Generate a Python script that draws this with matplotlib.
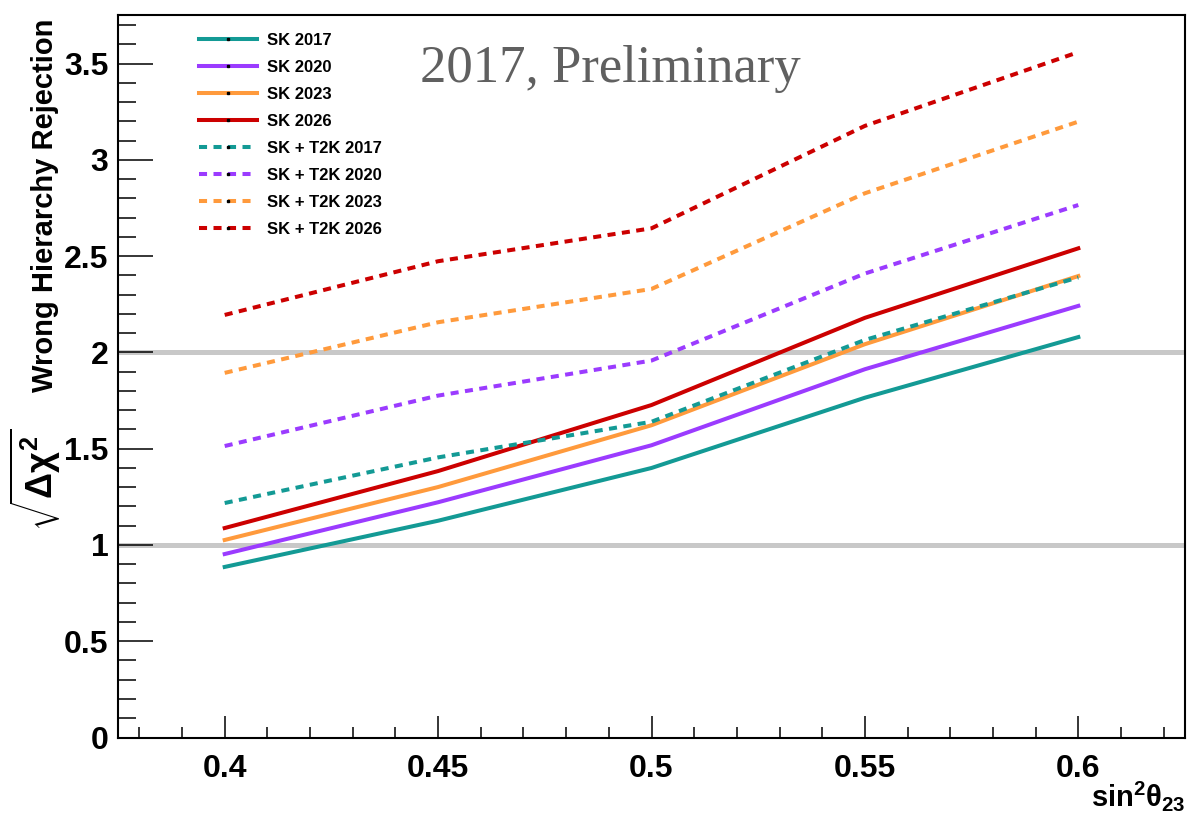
import matplotlib
matplotlib.use("Agg")
import matplotlib.pyplot as plt
from matplotlib.lines import Line2D
from matplotlib.ticker import MultipleLocator, FuncFormatter

# sin^2(theta_23) grid
sin2_theta23 = [0.40, 0.45, 0.50, 0.55, 0.60]

# sqrt(delta chi^2) for wrong-hierarchy rejection
sk_2017 = [0.886, 1.126, 1.400, 1.765, 2.080]
sk_2020 = [0.953, 1.222, 1.518, 1.913, 2.242]
sk_2023 = [1.026, 1.301, 1.622, 2.043, 2.397]
sk_2026 = [1.088, 1.384, 1.727, 2.180, 2.541]
sk_t2k_2017 = [1.218, 1.455, 1.640, 2.065, 2.390]
sk_t2k_2020 = [1.514, 1.776, 1.958, 2.410, 2.766]
sk_t2k_2023 = [1.894, 2.157, 2.330, 2.827, 3.199]
sk_t2k_2026 = [2.195, 2.474, 2.645, 3.177, 3.560]

labels = ["SK 2017", "SK 2020", "SK 2023", "SK 2026",
          "SK + T2K 2017", "SK + T2K 2020", "SK + T2K 2023", "SK + T2K 2026"]
series = [sk_2017, sk_2020, sk_2023, sk_2026,
          sk_t2k_2017, sk_t2k_2020, sk_t2k_2023, sk_t2k_2026]

TEAL = "#139a95"
VIOLET = "#9b3bff"
ORANGE = "#ff9a3c"
RED = "#cc0000"
colors = [TEAL, VIOLET, ORANGE, RED, TEAL, VIOLET, ORANGE, RED]
dashed = [False] * 4 + [True] * 4

plt.rcParams["font.family"] = ["Liberation Sans", "DejaVu Sans"]
plt.rcParams["mathtext.fontset"] = "custom"
plt.rcParams["mathtext.rm"] = "Liberation Sans:bold"
plt.rcParams["mathtext.it"] = "Liberation Sans:bold"
plt.rcParams["mathtext.bf"] = "Liberation Sans:bold"

W, H = 1187, 819
fig = plt.figure(figsize=(W / 100, H / 100), dpi=100)
x0, x1, ytop, ybot = 118, 1185, 15, 737.5
ax = fig.add_axes([x0 / W, (H - ybot) / H, (x1 - x0) / W, (ybot - ytop) / H])

ax.set_xlim(0.375, 0.625)
ax.set_ylim(0, 3.753)

# reference levels at 1 and 2 sigma
for lvl in (1, 2):
    ax.axhline(lvl, color="#c8c8c8", lw=3.6, zorder=1)

LW = 2.9
DASH = (2.0, 1.6)
for y, c, d in zip(series, colors, dashed):
    if d:
        ax.plot(sin2_theta23, y, color=c, lw=LW, dashes=DASH, zorder=3,
                dash_capstyle="butt")
    else:
        ax.plot(sin2_theta23, y, color=c, lw=LW, zorder=3)

# axes styling
for sp in ax.spines.values():
    sp.set_linewidth(1.5)
    sp.set_color("black")

ax.xaxis.set_major_locator(MultipleLocator(0.05))
ax.xaxis.set_minor_locator(MultipleLocator(0.01))
ax.yaxis.set_major_locator(MultipleLocator(0.5))
ax.yaxis.set_minor_locator(MultipleLocator(0.1))
ax.tick_params(axis="x", which="major", direction="in", length=16, width=1.1,
               pad=12, labelsize=23, top=False)
ax.tick_params(axis="x", which="minor", direction="in", length=8, width=1.1, top=False)
ax.tick_params(axis="y", which="major", direction="in", length=25, width=1.1,
               pad=7, labelsize=23, right=False)
ax.tick_params(axis="y", which="minor", direction="in", length=13, width=1.1, right=False)
ax.xaxis.set_major_formatter(FuncFormatter(lambda v, p: f"{v:g}"))
ax.yaxis.set_major_formatter(FuncFormatter(lambda v, p: f"{v:g}"))
for lab in ax.get_xticklabels() + ax.get_yticklabels():
    lab.set_fontweight("bold")

# legend
handles = []
for c, d in zip(colors, dashed):
    h = Line2D([0], [0], color=c, lw=LW, marker="s", markersize=1.6,
               markerfacecolor="black", markeredgecolor="black")
    if d:
        h.set_dashes(DASH)
    handles.append(h)
leg = ax.legend(handles, labels, loc="upper left",
                bbox_to_anchor=(81 / (x1 - x0), 1 - 18 / (ybot - ytop)),
                frameon=False, fontsize=12, handlelength=3.5, handletextpad=0.6,
                labelspacing=0.72, borderpad=0, borderaxespad=0, numpoints=1)
for t in leg.get_texts():
    t.set_fontweight("bold")

fig.text(420 / W, 1 - 82 / H, "2017, Preliminary", family="Liberation Serif",
         fontsize=38, color="#606060", ha="left", va="baseline")

# axis titles
fig.text(45 / W, 1 - 205 / H, "Wrong Hierarchy Rejection", rotation=90,
         fontsize=21, fontweight="bold", ha="center", va="center")
fig.text(35 / W, 1 - 480 / H, r"$\sqrt{\Delta\chi^{2}}$", rotation=90,
         fontsize=26, ha="center", va="center")
fig.text(1185 / W, 1 - 806 / H, r"sin$^{2}\theta_{23}$", fontsize=21,
         fontweight="bold", ha="right", va="baseline")

fig.savefig("out.png", dpi=100, facecolor="white")
